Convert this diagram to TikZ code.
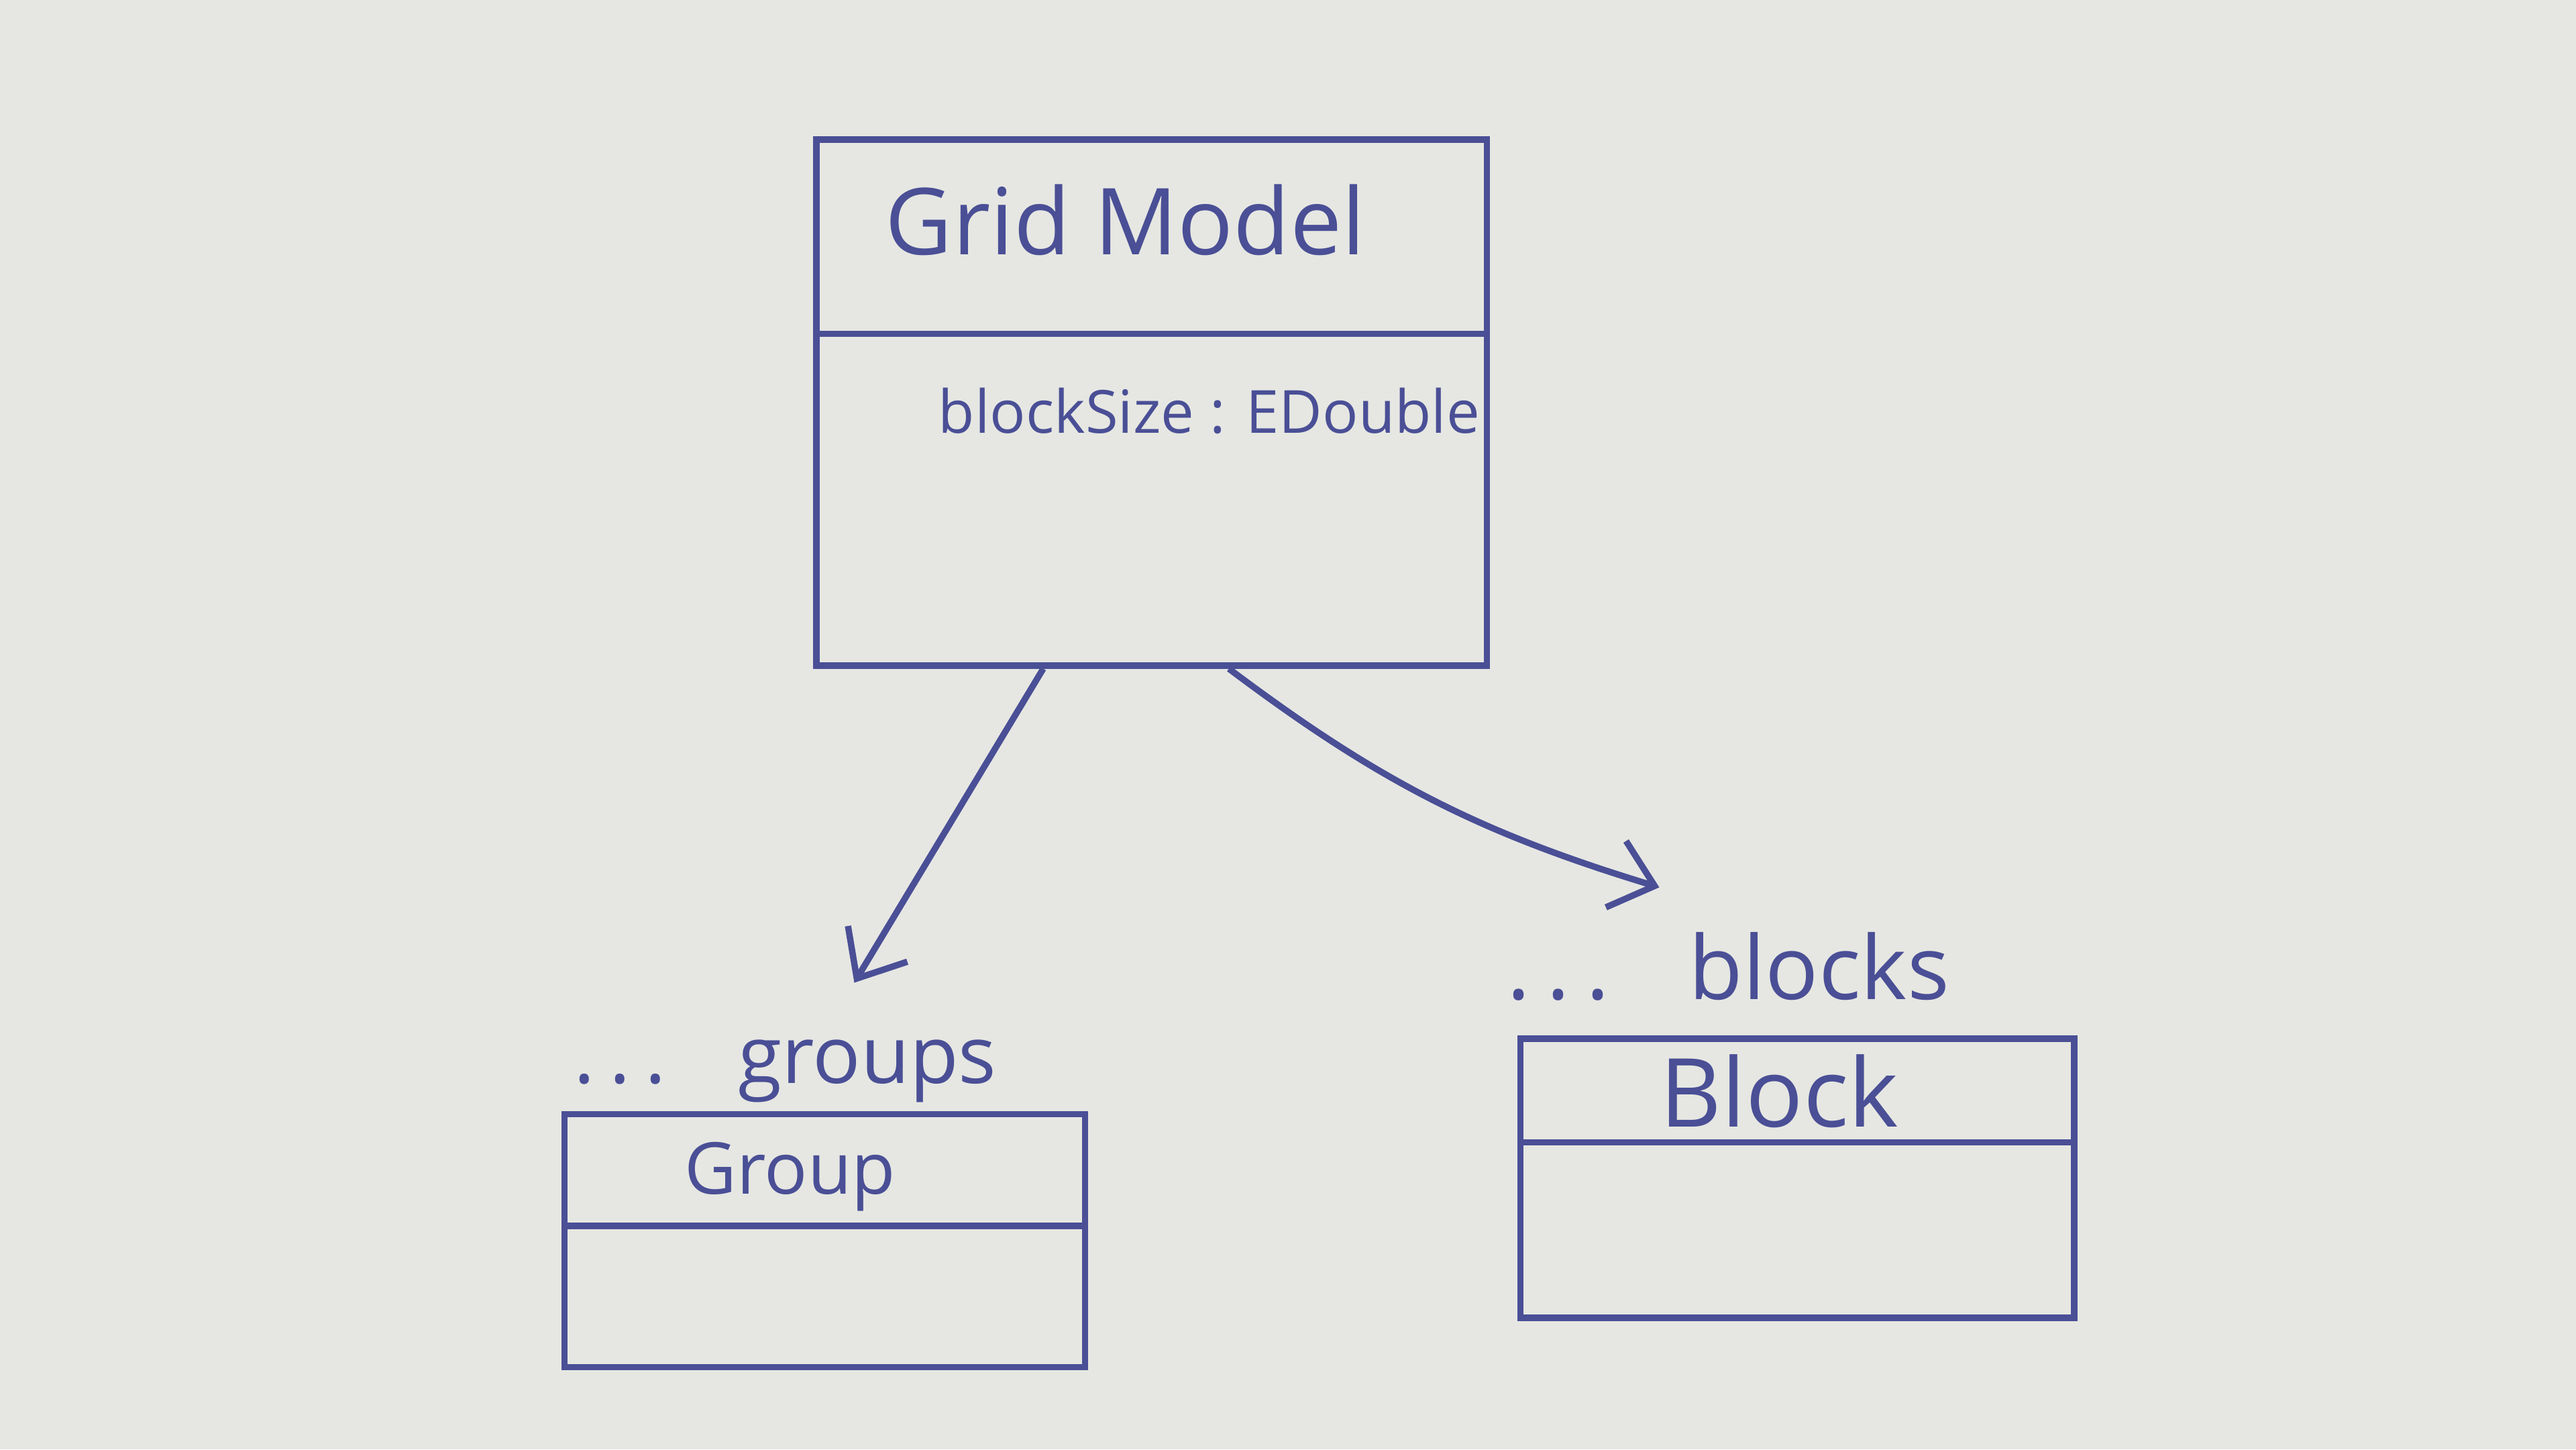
\documentclass[tikz,border=0pt]{standalone}
\usepackage{fontspec}
\setmainfont{Open Sans}
\usepackage{xcolor}
\usetikzlibrary{arrows.meta,positioning}
\definecolor{ink}{HTML}{4A4F96}
\definecolor{paper}{HTML}{E6E7E2}
\tikzset{
  classbox/.style={
    rectangle, draw=ink, line width=1.1pt,
    inner sep=0pt},
  classname/.style={
    text=ink, inner sep=1pt},
  mult/.style={
    text=ink, inner sep=1pt},
  divider/.style={draw=ink, line width=1.1pt},
  assoc/.style={-{Straight Barb[length=7pt,width=12pt,line width=1.1pt]}, line width=1.1pt, draw=ink},
}
\newcommand{\multdots}{.\hspace{0.18em}.\hspace{0.18em}.\hspace{0.9em}}

\begin{document}
\begin{tikzpicture}
  \fill[paper] (0,0) rectangle (15.68,8.82);
  \useasboundingbox (0,0) rectangle (15.68,8.82);
  % Grid Model
  \node[classbox, minimum width=4.08cm, minimum height=3.2cm] (grid) at (7.01,6.37) {};
  \draw[divider] ([yshift=-1.2cm]grid.north west) -- ([yshift=-1.2cm]grid.north east);
  \node[classname, font=\fontsize{16}{19}\selectfont] (gridname) at (6.85,7.48) {Grid Model};
  \node[classname, font=\fontsize{10.3}{13}\selectfont] (gridattr) at (7.36,6.32) {blockSize : EDouble};
  % Group
  \node[classbox, minimum width=3.17cm, minimum height=1.54cm] (group) at (5.02,1.27) {};
  \draw[divider] ([yshift=-0.7cm]group.north west) -- ([yshift=-0.7cm]group.north east);
  \node[classname, font=\fontsize{12.4}{15}\selectfont] (groupname) at (4.81,1.66) {Group};
  \node[mult, font=\fontsize{13.8}{16}\selectfont] (groupmult) at (4.78,2.3) {\multdots groups};
  % Block
  \node[classbox, minimum width=3.37cm, minimum height=1.7cm] (block) at (10.94,1.65) {};
  \draw[divider] ([yshift=-0.65cm]block.north west) -- ([yshift=-0.65cm]block.north east);
  \node[classname, font=\fontsize{16.5}{19}\selectfont] (blockname) at (10.83,2.18) {Block};
  \node[mult, font=\fontsize{15.3}{18}\selectfont] (blockmult) at (10.52,2.94) {\multdots blocks};
  % associations
  \coordinate (gtip) at (5.2,2.84);
  \coordinate (btip) at (10.1,3.42);
  \draw[assoc] ([xshift=-0.66cm]grid.south) -- (gtip);
  \draw[assoc] ([xshift=0.47cm]grid.south) to[bend right=10] (btip);
\end{tikzpicture}
\end{document}
